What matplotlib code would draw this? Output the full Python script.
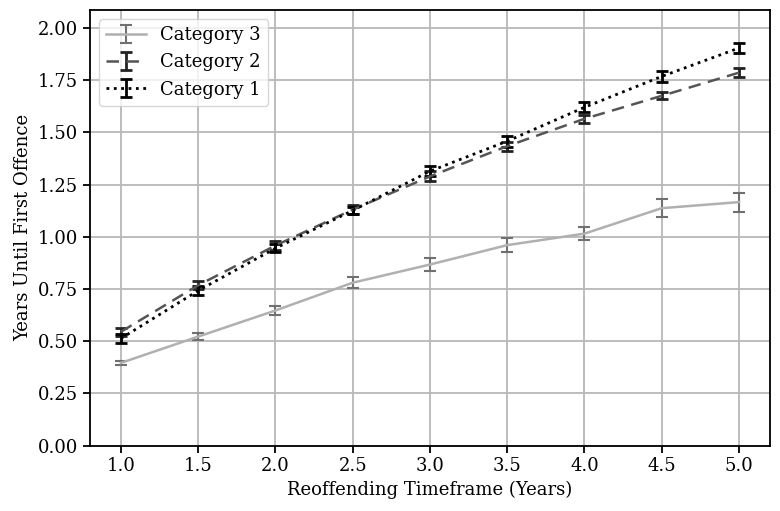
import numpy as np
import matplotlib
matplotlib.use("Agg")
import matplotlib.pyplot as plt

plt.rcParams["font.family"] = "DejaVu Serif"

timeframe = [1.0, 1.5, 2.0, 2.5, 3.0, 3.5, 4.0, 4.5, 5.0]

cat3_mean = [0.396, 0.522, 0.647, 0.780, 0.867, 0.960, 1.015, 1.137, 1.166]
cat3_err = [0.010, 0.015, 0.020, 0.025, 0.030, 0.032, 0.030, 0.043, 0.045]

cat2_mean = [0.545, 0.768, 0.958, 1.130, 1.289, 1.434, 1.565, 1.675, 1.786]
cat2_err = [0.020, 0.018, 0.020, 0.020, 0.024, 0.022, 0.020, 0.017, 0.022]

cat1_mean = [0.513, 0.742, 0.945, 1.126, 1.314, 1.458, 1.620, 1.768, 1.904]
cat1_err = [0.020, 0.022, 0.020, 0.018, 0.024, 0.026, 0.024, 0.027, 0.022]

fig, ax = plt.subplots(figsize=(7.8, 5.11), dpi=100)

ax.errorbar(timeframe, cat3_mean, yerr=cat3_err, label="Category 3",
            color="#b0b0b0", ecolor="#707070", lw=1.8, elinewidth=1.5,
            capsize=4.5, capthick=1.5, zorder=3)
ax.errorbar(timeframe, cat2_mean, yerr=cat2_err, label="Category 2",
            color="#555555", ecolor="#222222", ls=(0, (5, 3)), lw=1.8,
            elinewidth=2, capsize=4.5, capthick=2, zorder=3)
ax.errorbar(timeframe, cat1_mean, yerr=cat1_err, label="Category 1",
            color="black", ecolor="black", ls=":", lw=2,
            elinewidth=2, capsize=4.5, capthick=2, zorder=3)

ax.set_xticks(timeframe)
ax.set_ylim(0, 2.085)
ax.set_xlim(0.8, 5.2)
ax.set_yticks(np.arange(0, 2.01, 0.25))
ax.tick_params(labelsize=13, width=1.3, length=5)
ax.set_xlabel("Reoffending Timeframe (Years)", fontsize=13)
ax.set_ylabel("Years Until First Offence", fontsize=13)
ax.grid(color="#b8b8b8", lw=1.3)
ax.set_axisbelow(True)
for sp in ax.spines.values():
    sp.set_linewidth(1.3)
ax.legend(loc="upper left", fontsize=13, handlelength=2.2)

plt.subplots_adjust(left=0.1154, right=0.987, top=0.980, bottom=0.128)
plt.savefig("out.png", dpi=100)
